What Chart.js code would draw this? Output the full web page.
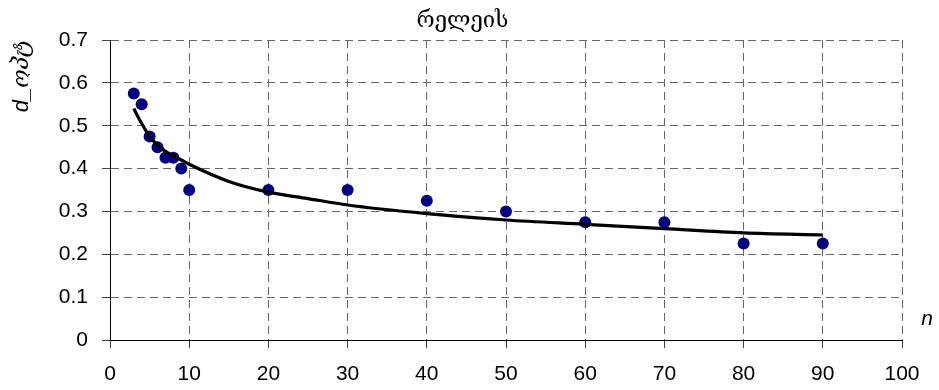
<!DOCTYPE html>
<html>
<head>
<meta charset="utf-8">
<script src="https://cdn.jsdelivr.net/npm/chart.js@4.4.0/dist/chart.umd.min.js"></script>
<style>
  html, body { margin: 0; padding: 0; background: #fff; }
  #wrap { width: 939px; height: 390px; }
</style>
</head>
<body>
<div id="wrap"><canvas id="chart"></canvas></div>
<script>
// measured points
const nValues = [3, 4, 5, 6, 7, 8, 9, 10, 20, 30, 40, 50, 60, 70, 80, 90];
const dValues = [0.575, 0.55, 0.475, 0.45, 0.425, 0.425, 0.4, 0.35, 0.35, 0.35, 0.325, 0.3, 0.275, 0.275, 0.225, 0.225];

// trend line
const trendN = [3, 4, 5, 6, 7, 8, 9, 10, 15, 20, 25, 30, 40, 50, 60, 70, 80, 90];
const trendD = [0.54, 0.505, 0.475, 0.455, 0.44, 0.43, 0.42, 0.41, 0.37, 0.345, 0.33, 0.315, 0.295, 0.28, 0.27, 0.26, 0.25, 0.245];

const chartTitle = 'რელეის';
const yTitle = 'd_ოპტ';
const xTitle = 'n';

const gridColor = '#666666';
const tickColor = '#404040';

// "n" sits to the right of the plot, just above the x axis
const xNamePlugin = {
    id: 'xName',
    afterDraw(chart) {
        const { ctx, chartArea } = chart;
        ctx.save();
        ctx.font = 'italic 21px "Liberation Sans", Arial, sans-serif';
        ctx.fillStyle = '#000';
        ctx.textAlign = 'center';
        ctx.textBaseline = 'middle';
        ctx.fillText(xTitle, chartArea.right + 25, chartArea.bottom - 21);
        ctx.restore();
    }
};

const ctx = document.getElementById('chart').getContext('2d');
new Chart(ctx, {
    type: 'scatter',
    data: {
        datasets: [
            {
                label: 'trend',
                data: trendN.map((n, i) => ({ x: n, y: trendD[i] })),
                showLine: true,
                borderColor: '#000',
                borderWidth: 3.2,
                pointRadius: 0,
                cubicInterpolationMode: 'monotone',
                order: 0
            },
            {
                label: 'd',
                data: nValues.map((n, i) => ({ x: n, y: dValues[i] })),
                backgroundColor: '#000080',
                borderColor: '#000080',
                pointRadius: 6,
                pointBorderWidth: 0,
                order: 1
            }
        ]
    },
    options: {
        responsive: true,
        maintainAspectRatio: false,
        animation: false,
        layout: {
            padding: { left: 23, right: 37, top: 0, bottom: 0 }
        },
        plugins: {
            legend: { display: false },
            tooltip: { enabled: false },
            title: {
                display: true,
                text: chartTitle,
                color: '#000',
                font: { family: '"DejaVu Serif", "DejaVu Sans", serif', size: 22, weight: 'normal', lineHeight: 1.2 },
                padding: { top: 8, bottom: 5.6 }
            }
        },
        scales: {
            x: {
                type: 'linear',
                min: 0,
                max: 100,
                ticks: {
                    stepSize: 10,
                    color: '#000',
                    padding: 14,
                    maxRotation: 0,
                    font: { family: '"Liberation Sans", Arial, sans-serif', size: 21 }
                },
                grid: {
                    color: gridColor,
                    lineWidth: 1,
                    tickLength: 8,
                    tickColor: tickColor,
                    tickBorderDash: []
                },
                border: { display: true, color: '#000', width: 1, dash: [8, 5] },
                afterFit(scale) { scale.height = 50; }
            },
            y: {
                type: 'linear',
                min: 0,
                max: 0.7,
                ticks: {
                    stepSize: 0.1,
                    color: '#000',
                    padding: 14,
                    font: { family: '"Liberation Sans", Arial, sans-serif', size: 21 }
                },
                grid: {
                    color: gridColor,
                    lineWidth: 1,
                    tickLength: 8,
                    tickColor: tickColor,
                    tickBorderDash: []
                },
                border: { display: true, color: '#000', width: 1, dash: [8, 5] },
                title: {
                    display: true,
                    text: yTitle,
                    align: 'end',
                    color: '#000',
                    font: { family: '"Liberation Sans", "DejaVu Serif", serif', size: 22, style: 'italic', lineHeight: 1.2 },
                    padding: { top: -14, bottom: 0 }
                },
                afterFit(scale) { scale.width = 87; }
            }
        }
    },
    plugins: [xNamePlugin]
});
</script>
</body>
</html>
